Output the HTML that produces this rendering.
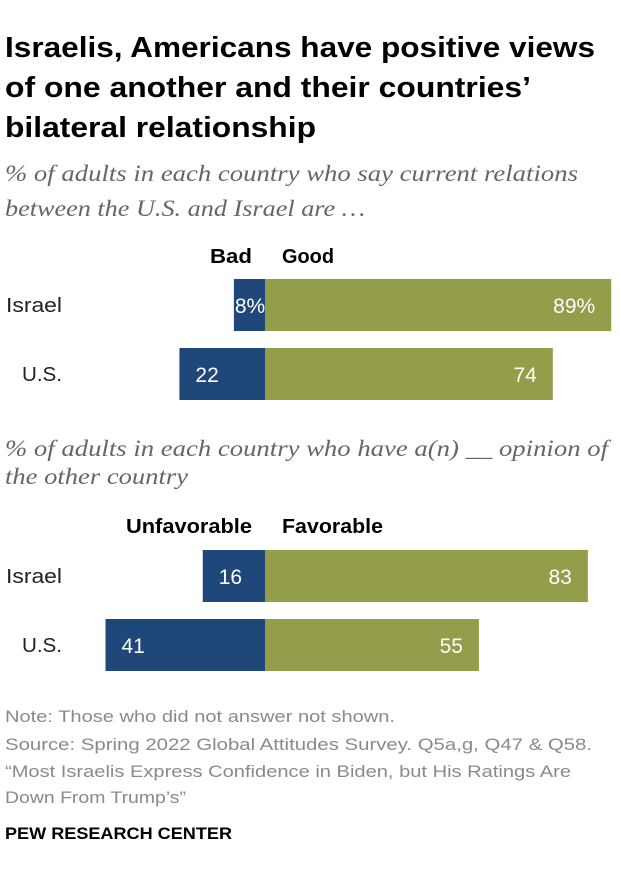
<!DOCTYPE html>
<html><head><meta charset="utf-8"><style>
body{margin:0;background:#fff;width:620px;height:884px;overflow:hidden;font-family:"Liberation Sans",sans-serif}
svg text{font-family:"Liberation Sans",sans-serif}
.s{font-family:"Liberation Serif",serif;font-style:italic}
</style></head><body>
<svg width="620" height="884">
<g font-size="29" font-weight="bold" fill="#000">
<text x="5" y="57" textLength="590" lengthAdjust="spacingAndGlyphs">Israelis, Americans have positive views</text>
<text x="5" y="97" textLength="526" lengthAdjust="spacingAndGlyphs">of one another and their countries’</text>
<text x="5" y="137" textLength="311" lengthAdjust="spacingAndGlyphs">bilateral relationship</text>
</g>
<g font-size="23" fill="#666">
<text class="s" x="5" y="181" textLength="573" lengthAdjust="spacingAndGlyphs">% of adults in each country who say current relations</text>
<text class="s" x="5" y="216" textLength="360" lengthAdjust="spacingAndGlyphs">between the U.S. and Israel are …</text>
</g>
<g font-size="23" fill="#666">
<text class="s" x="5" y="456" textLength="603" lengthAdjust="spacingAndGlyphs">% of adults in each country who have a(n) __ opinion of</text>
<text class="s" x="5" y="484" textLength="183" lengthAdjust="spacingAndGlyphs">the other country</text>
</g>
<g id="bars"></g>
<g font-size="17" fill="#8a8a8a">
<text x="5" y="722" textLength="390" lengthAdjust="spacingAndGlyphs">Note: Those who did not answer not shown.</text>
<text x="5" y="750" textLength="587" lengthAdjust="spacingAndGlyphs">Source: Spring 2022 Global Attitudes Survey. Q5a,g, Q47 &amp; Q58.</text>
<text x="5" y="777" textLength="566" lengthAdjust="spacingAndGlyphs">“Most Israelis Express Confidence in Biden, but His Ratings Are</text>
<text x="5" y="803" textLength="181" lengthAdjust="spacingAndGlyphs">Down From Trump’s”</text>
</g>
<text x="5" y="839" font-size="17" font-weight="bold" fill="#000" textLength="227" lengthAdjust="spacingAndGlyphs">PEW RESEARCH CENTER</text>
</svg>
<script>
const countries=["Israel","U.S."];
const relBad=[8,22];
const relGood=[89,74];
const opUnfav=[16,41];
const opFav=[83,55];
const NS="http://www.w3.org/2000/svg";
const g=document.getElementById('bars');
const base=265, scale=3.89;
const xs=v=>v*scale;
function el(t,a,txt){const e=document.createElementNS(NS,t);for(const k in a)e.setAttribute(k,a[k]);if(txt!==undefined)e.textContent=txt;g.appendChild(e);return e;}
function chart(neg,pos,negLabel,posLabel,headY,rowY,pct,prefix,negW,posW){
  let h=el('text',{x:base-13-negW,y:headY,'font-size':20,'font-weight':'bold',textLength:negW,lengthAdjust:'spacingAndGlyphs'},negLabel);
  
  
  h=el('text',{x:base+17,y:headY,'font-size':20,'font-weight':'bold',textLength:posW,lengthAdjust:'spacingAndGlyphs'},posLabel);
  
  
  countries.forEach((c,i)=>{
    const y=rowY[i];
    let l=el('text',{x:i==0?6:22,y:y+33,'font-size':20,fill:'#222',textLength:i==0?56:40,lengthAdjust:'spacingAndGlyphs'},c);
    
    
    const w1=xs(neg[i]);
    let r=el('rect',{x:base-w1,y:y,width:w1,height:52,fill:'#1f477a'});
    
    
    const w2=xs(pos[i]);
    r=el('rect',{x:base,y:y,width:w2,height:52,fill:'#949d4a'});
    
    
    const s=pct&&i==0?'%':'';
    let t=el('text',{x:w1<45?base-w1+1:base-w1+16,y:y+34,'font-size':21,fill:'#fff'},neg[i]+s);
    
    
    t=el('text',{x:base+w2-16,y:y+34,'font-size':21,fill:'#fff','text-anchor':'end'},pos[i]+s);
    
    
  });
}
chart(relBad,relGood,"Bad","Good",263,[279,348],true,'relations',42,52);
chart(opUnfav,opFav,"Unfavorable","Favorable",533,[550,619],false,'opinion',126,101);
</script>
</body></html>
